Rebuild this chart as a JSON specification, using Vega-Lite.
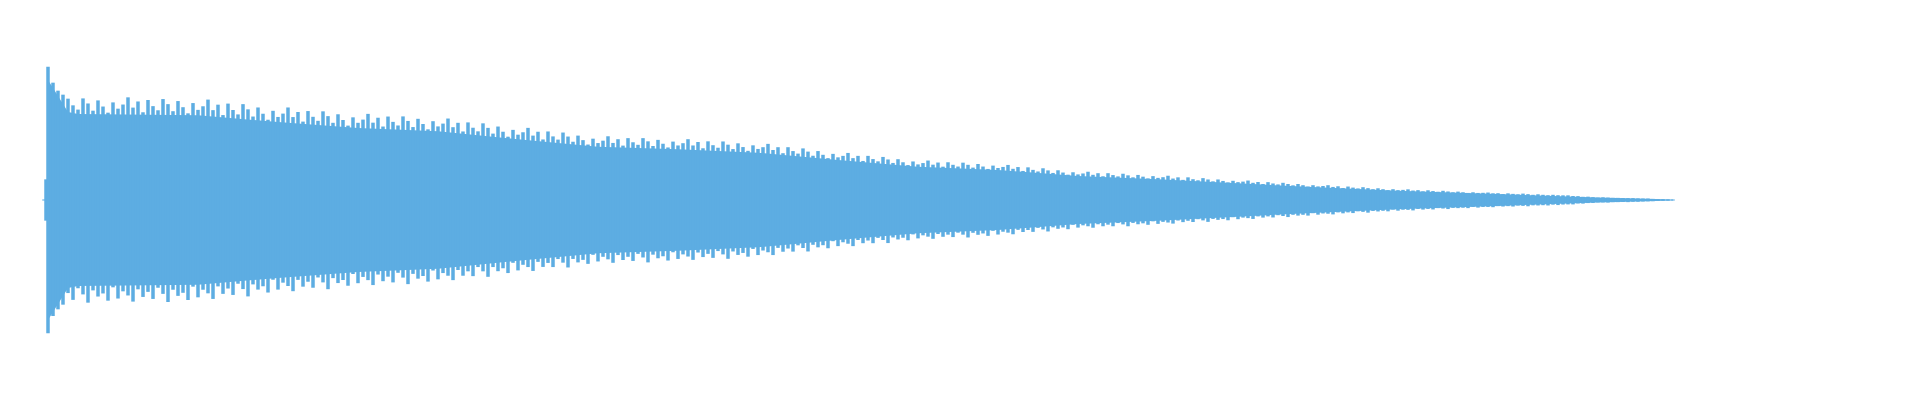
{"$schema":"https://vega.github.io/schema/vega-lite/v6.json","width":1920,"height":400,"autosize":{"type":"fit","contains":"padding"},"padding":0,"background":"white","config":{"view":{"stroke":null}},
"datasets":{"env":[{"t":0,"top":0.9,"bot":-0.9},{"t":0.05,"top":0.84,"bot":-0.84},{"t":0.1,"top":0.78,"bot":-0.78},{"t":0.15,"top":0.72,"bot":-0.72},{"t":0.2,"top":0.66,"bot":-0.66},{"t":0.3,"top":0.645,"bot":-0.645},{"t":1.5,"top":0.635,"bot":-0.635},{"t":2.3,"top":0.585,"bot":-0.585},{"t":3.1,"top":0.54,"bot":-0.54},{"t":3.9,"top":0.515,"bot":-0.515},{"t":4.7,"top":0.455,"bot":-0.455},{"t":5.5,"top":0.4,"bot":-0.4},{"t":6.3,"top":0.38,"bot":-0.38},{"t":7.1,"top":0.355,"bot":-0.355},{"t":7.9,"top":0.3,"bot":-0.3},{"t":8.7,"top":0.25,"bot":-0.25},{"t":9.5,"top":0.225,"bot":-0.225},{"t":10.3,"top":0.18,"bot":-0.18},{"t":11.1,"top":0.155,"bot":-0.155},{"t":11.9,"top":0.125,"bot":-0.125},{"t":12.7,"top":0.096,"bot":-0.096},{"t":13.5,"top":0.07,"bot":-0.07},{"t":14.5,"top":0.045,"bot":-0.045},{"t":15.5,"top":0.018,"bot":-0.018},{"t":16.0,"top":0.009,"bot":-0.009},{"t":16.25,"top":0.003,"bot":-0.003}],
"wave":[{"t":-0.04,"hi":0.004,"lo":-0.004},{"t":-0.02,"hi":0.155,"lo":-0.155},
{"t":0,"hi":1.0,"lo":-1.0},{"t":0.05,"hi":0.88,"lo":-0.87},{"t":0.1,"hi":0.82,"lo":-0.82},{"t":0.15,"hi":0.79,"lo":-0.785},{"t":0.2,"hi":0.76,"lo":-0.698},{"t":0.25,"hi":0.71,"lo":-0.749},{"t":0.3,"hi":0.678,"lo":-0.662},{"t":0.35,"hi":0.762,"lo":-0.708},{"t":0.4,"hi":0.724,"lo":-0.77},{"t":0.45,"hi":0.67,"lo":-0.678},{"t":0.5,"hi":0.747,"lo":-0.724},{"t":0.55,"hi":0.701,"lo":-0.701},{"t":0.6,"hi":0.655,"lo":-0.755},{"t":0.65,"hi":0.732,"lo":-0.655},{"t":0.7,"hi":0.685,"lo":-0.739},{"t":0.75,"hi":0.716,"lo":-0.685},{"t":0.8,"hi":0.77,"lo":-0.716},{"t":0.85,"hi":0.693,"lo":-0.762},{"t":0.9,"hi":0.739,"lo":-0.67},{"t":0.95,"hi":0.658,"lo":-0.727},{"t":1.0,"hi":0.75,"lo":-0.689},{"t":1.05,"hi":0.704,"lo":-0.742},{"t":1.1,"hi":0.673,"lo":-0.658},{"t":1.15,"hi":0.757,"lo":-0.704},{"t":1.2,"hi":0.719,"lo":-0.765},{"t":1.25,"hi":0.666,"lo":-0.673},{"t":1.3,"hi":0.742,"lo":-0.719},{"t":1.35,"hi":0.696,"lo":-0.696},{"t":1.4,"hi":0.65,"lo":-0.75},{"t":1.45,"hi":0.727,"lo":-0.65},
{"t":1.5,"hi":0.676,"lo":-0.73},{"t":1.55,"hi":0.703,"lo":-0.673},{"t":1.6,"hi":0.753,"lo":-0.7},{"t":1.65,"hi":0.674,"lo":-0.742},{"t":1.7,"hi":0.715,"lo":-0.648},{"t":1.75,"hi":0.637,"lo":-0.704},{"t":1.8,"hi":0.723,"lo":-0.664},{"t":1.85,"hi":0.675,"lo":-0.712},{"t":1.9,"hi":0.642,"lo":-0.628},{"t":1.95,"hi":0.719,"lo":-0.668},{"t":2.0,"hi":0.68,"lo":-0.723},{"t":2.05,"hi":0.626,"lo":-0.633},{"t":2.1,"hi":0.694,"lo":-0.672},{"t":2.15,"hi":0.647,"lo":-0.647},{"t":2.2,"hi":0.602,"lo":-0.694},{"t":2.25,"hi":0.669,"lo":-0.598},{"t":2.3,"hi":0.623,"lo":-0.672},{"t":2.35,"hi":0.648,"lo":-0.62},{"t":2.4,"hi":0.694,"lo":-0.645},{"t":2.45,"hi":0.622,"lo":-0.684},{"t":2.5,"hi":0.66,"lo":-0.599},{"t":2.55,"hi":0.588,"lo":-0.65},{"t":2.6,"hi":0.667,"lo":-0.613},{"t":2.65,"hi":0.624,"lo":-0.658},{"t":2.7,"hi":0.594,"lo":-0.581},{"t":2.75,"hi":0.665,"lo":-0.618},{"t":2.8,"hi":0.629,"lo":-0.669},{"t":2.85,"hi":0.579,"lo":-0.586},{"t":2.9,"hi":0.643,"lo":-0.623},{"t":2.95,"hi":0.6,"lo":-0.6},
{"t":3.0,"hi":0.558,"lo":-0.643},{"t":3.05,"hi":0.62,"lo":-0.555},{"t":3.1,"hi":0.579,"lo":-0.624},{"t":3.15,"hi":0.603,"lo":-0.577},{"t":3.2,"hi":0.646,"lo":-0.601},{"t":3.25,"hi":0.58,"lo":-0.638},{"t":3.3,"hi":0.617,"lo":-0.559},{"t":3.35,"hi":0.551,"lo":-0.609},{"t":3.4,"hi":0.626,"lo":-0.575},{"t":3.45,"hi":0.586,"lo":-0.618},{"t":3.5,"hi":0.559,"lo":-0.546},{"t":3.55,"hi":0.627,"lo":-0.582},{"t":3.6,"hi":0.593,"lo":-0.631},{"t":3.65,"hi":0.547,"lo":-0.554},{"t":3.7,"hi":0.609,"lo":-0.59},{"t":3.75,"hi":0.57,"lo":-0.57},{"t":3.8,"hi":0.53,"lo":-0.612},{"t":3.85,"hi":0.591,"lo":-0.529},{"t":3.9,"hi":0.552,"lo":-0.595},{"t":3.95,"hi":0.573,"lo":-0.548},{"t":4.0,"hi":0.611,"lo":-0.568},{"t":4.05,"hi":0.546,"lo":-0.601},{"t":4.1,"hi":0.579,"lo":-0.525},{"t":4.15,"hi":0.514,"lo":-0.568},{"t":4.2,"hi":0.582,"lo":-0.535},{"t":4.25,"hi":0.542,"lo":-0.571},{"t":4.3,"hi":0.515,"lo":-0.503},{"t":4.35,"hi":0.575,"lo":-0.535},{"t":4.4,"hi":0.541,"lo":-0.576},{"t":4.45,"hi":0.498,"lo":-0.503},
{"t":4.5,"hi":0.551,"lo":-0.534},{"t":4.55,"hi":0.512,"lo":-0.512},{"t":4.6,"hi":0.475,"lo":-0.548},{"t":4.65,"hi":0.526,"lo":-0.471},{"t":4.7,"hi":0.49,"lo":-0.528},{"t":4.75,"hi":0.508,"lo":-0.486},{"t":4.8,"hi":0.541,"lo":-0.503},{"t":4.85,"hi":0.483,"lo":-0.532},{"t":4.9,"hi":0.512,"lo":-0.464},{"t":4.95,"hi":0.454,"lo":-0.502},{"t":5.0,"hi":0.514,"lo":-0.472},{"t":5.05,"hi":0.477,"lo":-0.503},{"t":5.1,"hi":0.453,"lo":-0.443},{"t":5.15,"hi":0.506,"lo":-0.47},{"t":5.2,"hi":0.476,"lo":-0.506},{"t":5.25,"hi":0.437,"lo":-0.442},{"t":5.3,"hi":0.483,"lo":-0.468},{"t":5.35,"hi":0.449,"lo":-0.449},{"t":5.4,"hi":0.416,"lo":-0.479},{"t":5.45,"hi":0.46,"lo":-0.411},{"t":5.5,"hi":0.427,"lo":-0.461},{"t":5.55,"hi":0.445,"lo":-0.426},{"t":5.6,"hi":0.478,"lo":-0.445},{"t":5.65,"hi":0.428,"lo":-0.471},{"t":5.7,"hi":0.456,"lo":-0.413},{"t":5.75,"hi":0.408,"lo":-0.45},{"t":5.8,"hi":0.464,"lo":-0.426},{"t":5.85,"hi":0.433,"lo":-0.457},{"t":5.9,"hi":0.414,"lo":-0.404},{"t":5.95,"hi":0.464,"lo":-0.431},
{"t":6.0,"hi":0.44,"lo":-0.468},{"t":6.05,"hi":0.405,"lo":-0.41},{"t":6.1,"hi":0.451,"lo":-0.437},{"t":6.15,"hi":0.422,"lo":-0.422},{"t":6.2,"hi":0.394,"lo":-0.454},{"t":6.25,"hi":0.438,"lo":-0.392},{"t":6.3,"hi":0.409,"lo":-0.442},{"t":6.35,"hi":0.426,"lo":-0.408},{"t":6.4,"hi":0.456,"lo":-0.424},{"t":6.45,"hi":0.409,"lo":-0.449},{"t":6.5,"hi":0.435,"lo":-0.394},{"t":6.55,"hi":0.388,"lo":-0.428},{"t":6.6,"hi":0.44,"lo":-0.404},{"t":6.65,"hi":0.411,"lo":-0.434},{"t":6.7,"hi":0.392,"lo":-0.383},{"t":6.75,"hi":0.439,"lo":-0.408},{"t":6.8,"hi":0.415,"lo":-0.441},{"t":6.85,"hi":0.382,"lo":-0.386},{"t":6.9,"hi":0.425,"lo":-0.412},{"t":6.95,"hi":0.397,"lo":-0.397},{"t":7.0,"hi":0.369,"lo":-0.425},{"t":7.05,"hi":0.41,"lo":-0.367},{"t":7.1,"hi":0.383,"lo":-0.413},{"t":7.15,"hi":0.396,"lo":-0.379},{"t":7.2,"hi":0.421,"lo":-0.392},{"t":7.25,"hi":0.375,"lo":-0.413},{"t":7.3,"hi":0.396,"lo":-0.359},{"t":7.35,"hi":0.351,"lo":-0.388},{"t":7.4,"hi":0.396,"lo":-0.364},{"t":7.45,"hi":0.367,"lo":-0.387},
{"t":7.5,"hi":0.348,"lo":-0.34},{"t":7.55,"hi":0.387,"lo":-0.36},{"t":7.6,"hi":0.363,"lo":-0.386},{"t":7.65,"hi":0.332,"lo":-0.336},{"t":7.7,"hi":0.367,"lo":-0.355},{"t":7.75,"hi":0.339,"lo":-0.339},{"t":7.8,"hi":0.314,"lo":-0.362},{"t":7.85,"hi":0.346,"lo":-0.309},{"t":7.9,"hi":0.32,"lo":-0.346},{"t":7.95,"hi":0.331,"lo":-0.317},{"t":8.0,"hi":0.353,"lo":-0.328},{"t":8.05,"hi":0.314,"lo":-0.346},{"t":8.1,"hi":0.331,"lo":-0.3},{"t":8.15,"hi":0.293,"lo":-0.324},{"t":8.2,"hi":0.331,"lo":-0.304},{"t":8.25,"hi":0.307,"lo":-0.324},{"t":8.3,"hi":0.29,"lo":-0.284},{"t":8.35,"hi":0.323,"lo":-0.3},{"t":8.4,"hi":0.304,"lo":-0.323},{"t":8.45,"hi":0.278,"lo":-0.281},{"t":8.5,"hi":0.306,"lo":-0.296},{"t":8.55,"hi":0.283,"lo":-0.283},{"t":8.6,"hi":0.262,"lo":-0.302},{"t":8.65,"hi":0.289,"lo":-0.258},{"t":8.7,"hi":0.267,"lo":-0.288},{"t":8.75,"hi":0.277,"lo":-0.265},{"t":8.8,"hi":0.296,"lo":-0.275},{"t":8.85,"hi":0.265,"lo":-0.291},{"t":8.9,"hi":0.281,"lo":-0.255},{"t":8.95,"hi":0.25,"lo":-0.276},
{"t":9.0,"hi":0.283,"lo":-0.26},{"t":9.05,"hi":0.264,"lo":-0.278},{"t":9.1,"hi":0.251,"lo":-0.245},{"t":9.15,"hi":0.28,"lo":-0.26},{"t":9.2,"hi":0.264,"lo":-0.281},{"t":9.25,"hi":0.243,"lo":-0.246},{"t":9.3,"hi":0.27,"lo":-0.261},{"t":9.35,"hi":0.251,"lo":-0.251},{"t":9.4,"hi":0.233,"lo":-0.269},{"t":9.45,"hi":0.258,"lo":-0.231},{"t":9.5,"hi":0.24,"lo":-0.259},{"t":9.55,"hi":0.248,"lo":-0.238},{"t":9.6,"hi":0.263,"lo":-0.245},{"t":9.65,"hi":0.234,"lo":-0.257},{"t":9.7,"hi":0.247,"lo":-0.224},{"t":9.75,"hi":0.218,"lo":-0.24},{"t":9.8,"hi":0.245,"lo":-0.225},{"t":9.85,"hi":0.226,"lo":-0.239},{"t":9.9,"hi":0.214,"lo":-0.209},{"t":9.95,"hi":0.238,"lo":-0.221},{"t":10.0,"hi":0.222,"lo":-0.236},{"t":10.05,"hi":0.203,"lo":-0.205},{"t":10.1,"hi":0.223,"lo":-0.216},{"t":10.15,"hi":0.206,"lo":-0.206},{"t":10.2,"hi":0.19,"lo":-0.219},{"t":10.25,"hi":0.208,"lo":-0.186},{"t":10.3,"hi":0.192,"lo":-0.207},{"t":10.35,"hi":0.199,"lo":-0.19},{"t":10.4,"hi":0.212,"lo":-0.197},{"t":10.45,"hi":0.189,"lo":-0.208},
{"t":10.5,"hi":0.201,"lo":-0.182},{"t":10.55,"hi":0.178,"lo":-0.197},{"t":10.6,"hi":0.201,"lo":-0.185},{"t":10.65,"hi":0.187,"lo":-0.197},{"t":10.7,"hi":0.177,"lo":-0.173},{"t":10.75,"hi":0.197,"lo":-0.183},{"t":10.8,"hi":0.185,"lo":-0.197},{"t":10.85,"hi":0.17,"lo":-0.172},{"t":10.9,"hi":0.188,"lo":-0.182},{"t":10.95,"hi":0.175,"lo":-0.175},{"t":11.0,"hi":0.162,"lo":-0.186},{"t":11.05,"hi":0.179,"lo":-0.16},{"t":11.1,"hi":0.166,"lo":-0.179},{"t":11.15,"hi":0.171,"lo":-0.164},{"t":11.2,"hi":0.182,"lo":-0.169},{"t":11.25,"hi":0.161,"lo":-0.177},{"t":11.3,"hi":0.17,"lo":-0.154},{"t":11.35,"hi":0.151,"lo":-0.166},{"t":11.4,"hi":0.17,"lo":-0.156},{"t":11.45,"hi":0.156,"lo":-0.165},{"t":11.5,"hi":0.148,"lo":-0.144},{"t":11.55,"hi":0.164,"lo":-0.153},{"t":11.6,"hi":0.154,"lo":-0.164},{"t":11.65,"hi":0.14,"lo":-0.142},{"t":11.7,"hi":0.154,"lo":-0.149},{"t":11.75,"hi":0.143,"lo":-0.143},{"t":11.8,"hi":0.132,"lo":-0.152},{"t":11.85,"hi":0.144,"lo":-0.129},{"t":11.9,"hi":0.134,"lo":-0.144},{"t":11.95,"hi":0.138,"lo":-0.132},
{"t":12.0,"hi":0.146,"lo":-0.136},{"t":12.05,"hi":0.129,"lo":-0.142},{"t":12.1,"hi":0.135,"lo":-0.123},{"t":12.15,"hi":0.12,"lo":-0.132},{"t":12.2,"hi":0.134,"lo":-0.123},{"t":12.25,"hi":0.124,"lo":-0.131},{"t":12.3,"hi":0.117,"lo":-0.114},{"t":12.35,"hi":0.129,"lo":-0.12},{"t":12.4,"hi":0.12,"lo":-0.128},{"t":12.45,"hi":0.11,"lo":-0.111},{"t":12.5,"hi":0.12,"lo":-0.117},{"t":12.55,"hi":0.111,"lo":-0.111},{"t":12.6,"hi":0.101,"lo":-0.117},{"t":12.65,"hi":0.111,"lo":-0.099},{"t":12.7,"hi":0.102,"lo":-0.11},{"t":12.75,"hi":0.105,"lo":-0.101},{"t":12.8,"hi":0.111,"lo":-0.103},{"t":12.85,"hi":0.098,"lo":-0.108},{"t":12.9,"hi":0.103,"lo":-0.093},{"t":12.95,"hi":0.09,"lo":-0.1},{"t":13.0,"hi":0.101,"lo":-0.093},{"t":13.05,"hi":0.093,"lo":-0.098},{"t":13.1,"hi":0.087,"lo":-0.085},{"t":13.15,"hi":0.096,"lo":-0.089},{"t":13.2,"hi":0.089,"lo":-0.095},{"t":13.25,"hi":0.081,"lo":-0.082},{"t":13.3,"hi":0.088,"lo":-0.086},{"t":13.35,"hi":0.081,"lo":-0.081},{"t":13.4,"hi":0.074,"lo":-0.085},{"t":13.45,"hi":0.081,"lo":-0.072},
{"t":13.5,"hi":0.074,"lo":-0.08},{"t":13.55,"hi":0.076,"lo":-0.073},{"t":13.6,"hi":0.08,"lo":-0.074},{"t":13.65,"hi":0.071,"lo":-0.078},{"t":13.7,"hi":0.074,"lo":-0.067},{"t":13.75,"hi":0.065,"lo":-0.072},{"t":13.8,"hi":0.073,"lo":-0.067},{"t":13.85,"hi":0.067,"lo":-0.071},{"t":13.9,"hi":0.062,"lo":-0.061},{"t":13.95,"hi":0.069,"lo":-0.064},{"t":14.0,"hi":0.064,"lo":-0.068},{"t":14.05,"hi":0.058,"lo":-0.059},{"t":14.1,"hi":0.063,"lo":-0.061},{"t":14.15,"hi":0.058,"lo":-0.058},{"t":14.2,"hi":0.053,"lo":-0.061},{"t":14.25,"hi":0.058,"lo":-0.052},{"t":14.3,"hi":0.053,"lo":-0.057},{"t":14.35,"hi":0.054,"lo":-0.052},{"t":14.4,"hi":0.056,"lo":-0.052},{"t":14.45,"hi":0.05,"lo":-0.054},{"t":14.5,"hi":0.051,"lo":-0.046},{"t":14.55,"hi":0.045,"lo":-0.049},{"t":14.6,"hi":0.05,"lo":-0.046},{"t":14.65,"hi":0.046,"lo":-0.049},{"t":14.7,"hi":0.043,"lo":-0.042},{"t":14.75,"hi":0.048,"lo":-0.044},{"t":14.8,"hi":0.044,"lo":-0.047},{"t":14.85,"hi":0.039,"lo":-0.04},{"t":14.9,"hi":0.043,"lo":-0.041},{"t":14.95,"hi":0.039,"lo":-0.039},
{"t":15.0,"hi":0.036,"lo":-0.041},{"t":15.05,"hi":0.039,"lo":-0.035},{"t":15.1,"hi":0.036,"lo":-0.038},{"t":15.15,"hi":0.035,"lo":-0.034},{"t":15.2,"hi":0.035,"lo":-0.033},{"t":15.25,"hi":0.03,"lo":-0.033},{"t":15.3,"hi":0.029,"lo":-0.026},{"t":15.35,"hi":0.024,"lo":-0.027},{"t":15.4,"hi":0.025,"lo":-0.023},{"t":15.45,"hi":0.021,"lo":-0.022},{"t":15.5,"hi":0.018,"lo":-0.018},{"t":15.55,"hi":0.02,"lo":-0.018},{"t":15.6,"hi":0.018,"lo":-0.019},{"t":15.65,"hi":0.016,"lo":-0.016},{"t":15.7,"hi":0.016,"lo":-0.016},{"t":15.75,"hi":0.015,"lo":-0.015},{"t":15.8,"hi":0.014,"lo":-0.016},{"t":15.85,"hi":0.014,"lo":-0.013},{"t":15.9,"hi":0.012,"lo":-0.013},{"t":15.95,"hi":0.011,"lo":-0.011},{"t":16.0,"hi":0.011,"lo":-0.01},{"t":16.05,"hi":0.008,"lo":-0.009},{"t":16.1,"hi":0.007,"lo":-0.007},{"t":16.15,"hi":0.006,"lo":-0.006},{"t":16.2,"hi":0.005,"lo":-0.005},{"t":16.25,"hi":0.004,"lo":-0.004}]},
"layer":[
{"data":{"name":"env"},"mark":{"type":"area","color":"#5dade2","interpolate":"linear"},"encoding":{"x":{"field":"t","type":"quantitative","scale":{"domain":[-0.48,18.72],"nice":false,"zero":false},"axis":null},"y":{"field":"top","type":"quantitative","scale":{"domain":[-1.5,1.5],"nice":false,"zero":false},"axis":null},"y2":{"field":"bot"}}},
{"data":{"name":"wave"},"mark":{"type":"rule","color":"#5dade2","strokeWidth":3.5},"encoding":{"x":{"field":"t","type":"quantitative","scale":{"domain":[-0.48,18.72],"nice":false,"zero":false},"axis":null},"y":{"field":"hi","type":"quantitative","scale":{"domain":[-1.5,1.5],"nice":false,"zero":false},"axis":null},"y2":{"field":"lo"}}}
]}
